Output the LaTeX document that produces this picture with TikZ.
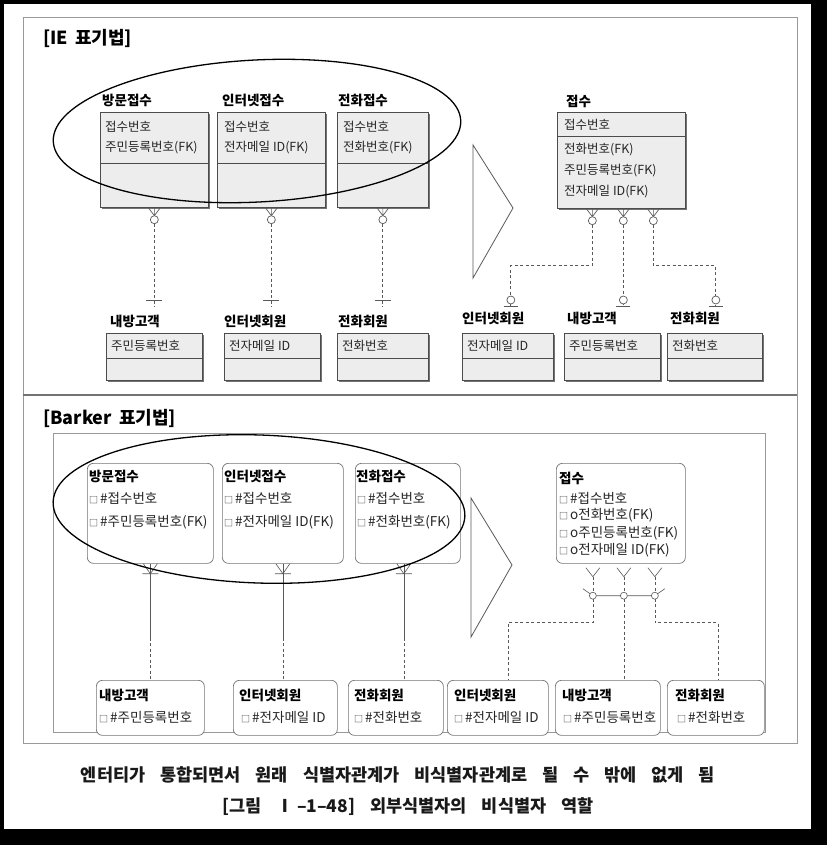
\documentclass[tikz,border=0pt]{standalone}
\usepackage{fontspec}
\setmainfont{Noto Sans CJK KR}
\usetikzlibrary{calc,shadows}

\definecolor{framegray}{gray}{0.6}
\definecolor{boxgray}{gray}{0.93}
\definecolor{relgray}{gray}{0.35}

% small key square used in Barker attributes
\newcommand{\bsq}{{\fontsize{9}{9}\selectfont □}\hspace{2pt}}

\tikzset{
  % IE: zero or many (crow's foot + circle)
  iemany/.pic={
    \draw[relgray, line width=0.7pt] (-6,0) -- (0,8) -- (6,0) (0,0) -- (0,8);
    \draw[relgray, line width=0.7pt, fill=white] (0,12) circle (4);
  },
  % IE: exactly one
  ieone/.pic={\draw[relgray, line width=0.8pt] (-8,0) -- (8,0);},
  % IE: zero or one
  ieopt/.pic={
    \draw[relgray, line width=0.7pt, fill=white] (0,-6) circle (4);
    \draw[relgray, line width=0.8pt] (-7,0) -- (7,0);
  },
  % Barker: many, part of UID
  bkid/.pic={
    \draw[black!65, line width=0.6pt] (-7,0) -- (0,10) -- (7,0) (-8,10) -- (8,10);
  },
  % Barker: many
  bkmany/.pic={
    \draw[black!65, line width=0.6pt] (-7,4) -- (0,13) -- (7,4);
  }
}

\begin{document}
\begin{tikzpicture}[x=1pt, y=-1pt,
  head/.style={font={\fontsize{18}{18}\selectfont\bfseries\spaceskip=7pt\relax}, anchor=west, inner sep=0pt},
  title/.style={font=\fontsize{13.5}{13.5}\selectfont\bfseries, anchor=west, inner sep=0pt},
  attr/.style={font=\fontsize{12.5}{12.5}\selectfont, anchor=west, inner sep=0pt, text=black!85},
  battr/.style={font=\fontsize{13.5}{13.5}\selectfont, anchor=west, inner sep=0pt, text=black!85},
  caption/.style={font={\fontsize{17.5}{17.5}\selectfont\bfseries\spaceskip=15pt\relax}, inner sep=0pt, text=black!90},
  iebox/.style={draw=black!70, line width=0.7pt, fill=boxgray, anchor=north west, inner sep=0pt,
    drop shadow={shadow xshift=1.5pt, shadow yshift=-1.5pt, fill=black!55, opacity=1}},
  bkbox/.style={draw=black!55, line width=0.7pt, fill=white, rounded corners=6pt, anchor=north west, inner sep=0pt},
  sep/.style={black!70, line width=0.7pt},
  ierel/.style={relgray, line width=0.9pt, dash pattern=on 3pt off 2.5pt},
  bkrel/.style={black!65, line width=0.6pt},
  bkopt/.style={bkrel, dash pattern=on 3pt off 2.5pt},
  oval/.style={black, line width=1.3pt},
  funnel/.style={black!65, line width=0.8pt},
]
  % Page and frames
  \fill[black] (0,0) rectangle (827,845);
  \fill[white] (4,4) rectangle (811,829);
  \draw[framegray, line width=0.8pt] (23,17) rectangle (797,743);
  \draw[black!55, line width=1.4pt] (23,395) -- (797,395);
  \draw[framegray, line width=0.7pt] (53,433) rectangle (765,732);

  % Headings
  \node[head] (ieHead) at (43,38) {[IE 표기법]};
  \node[head] (bkHead) at (43,418) {[Barker 표기법]};

  %% ---------------- IE notation ----------------
  % 방문접수
  \node[iebox, minimum width=108pt, minimum height=95pt] (ieVisit) at (100,112) {};
  \node[title] (ieVisitT) at (102,100) {방문접수};
  \node[attr] (ieVisitA) at (105,127) {접수번호};
  \node[attr] (ieVisitB) at (105,148) {주민등록번호(FK)};
  \draw[sep] ($(ieVisit.north west)+(0,51)$) -- ($(ieVisit.north east)+(0,51)$);
  % 인터넷접수
  \node[iebox, minimum width=108pt, minimum height=95pt] (ieNet) at (217,112) {};
  \node[title] (ieNetT) at (222,100) {인터넷접수};
  \node[attr] (ieNetA) at (224,127) {접수번호};
  \node[attr] (ieNetB) at (224,148) {전자메일 ID(FK)};
  \draw[sep] ($(ieNet.north west)+(0,51)$) -- ($(ieNet.north east)+(0,51)$);
  % 전화접수
  \node[iebox, minimum width=91pt, minimum height=95pt] (iePhone) at (337,112) {};
  \node[title] (iePhoneT) at (338,100) {전화접수};
  \node[attr] (iePhoneA) at (343,127) {접수번호};
  \node[attr] (iePhoneB) at (343,148) {전화번호(FK)};
  \draw[sep] ($(iePhone.north west)+(0,51)$) -- ($(iePhone.north east)+(0,51)$);
  % 접수
  \node[iebox, minimum width=128pt, minimum height=96pt] (ieRecv) at (557,112) {};
  \node[title] (ieRecvT) at (566,101) {접수};
  \node[attr] (ieRecvA) at (564,125) {접수번호};
  \node[attr] (ieRecvB) at (564,150) {전화번호(FK)};
  \node[attr] (ieRecvC) at (564,171) {주민등록번호(FK)};
  \node[attr] (ieRecvD) at (564,192) {전자메일 ID(FK)};
  \draw[sep] ($(ieRecv.north west)+(0,24)$) -- ($(ieRecv.north east)+(0,24)$);

  % lower IE entities
  \node[iebox, minimum width=96pt, minimum height=47pt] (ieHome) at (106,333) {};
  \node[title] (ieHomeT) at (110,321) {내방고객};
  \node[attr] (ieHomeA) at (111,346) {주민등록번호};
  \draw[sep] ($(ieHome.north west)+(0,25)$) -- ($(ieHome.north east)+(0,25)$);
  \node[iebox, minimum width=96pt, minimum height=47pt] (ieNetM) at (224,333) {};
  \node[title] (ieNetMT) at (224,321) {인터넷회원};
  \node[attr] (ieNetMA) at (229,346) {전자메일 ID};
  \draw[sep] ($(ieNetM.north west)+(0,25)$) -- ($(ieNetM.north east)+(0,25)$);
  \node[iebox, minimum width=91pt, minimum height=47pt] (iePhoneM) at (337,333) {};
  \node[title] (iePhoneMT) at (338,321) {전화회원};
  \node[attr] (iePhoneMA) at (342,346) {전화번호};
  \draw[sep] ($(iePhoneM.north west)+(0,25)$) -- ($(iePhoneM.north east)+(0,25)$);
  \node[iebox, minimum width=91pt, minimum height=47pt] (ieNetR) at (462,333) {};
  \node[title] (ieNetRT) at (462,318) {인터넷회원};
  \node[attr] (ieNetRA) at (467,346) {전자메일 ID};
  \draw[sep] ($(ieNetR.north west)+(0,25)$) -- ($(ieNetR.north east)+(0,25)$);
  \node[iebox, minimum width=96pt, minimum height=47pt] (ieHomeR) at (564,333) {};
  \node[title] (ieHomeRT) at (567,318) {내방고객};
  \node[attr] (ieHomeRA) at (569,346) {주민등록번호};
  \draw[sep] ($(ieHomeR.north west)+(0,25)$) -- ($(ieHomeR.north east)+(0,25)$);
  \node[iebox, minimum width=95pt, minimum height=47pt] (iePhoneR) at (667,333) {};
  \node[title] (iePhoneRT) at (670,318) {전화회원};
  \node[attr] (iePhoneRA) at (672,346) {전화번호};
  \draw[sep] ($(iePhoneR.north west)+(0,25)$) -- ($(iePhoneR.north east)+(0,25)$);

  % IE identifying relations (left)
  \foreach \a/\b in {ieVisit/ieHome, ieNet/ieNetM, iePhone/iePhoneM} {
    \draw[ierel] ($(\a.south)+(0,16)$) -- (\a.south |- 0,307);
    \pic at (\a.south) {iemany};
    \pic at (\a.south |- 0,300) {ieone};
  }
  % IE non-identifying relations (right)
  \coordinate (ieR1) at ($(ieRecv.south)+(-29,0)$);
  \coordinate (ieR2) at ($(ieRecv.south)+(2,0)$);
  \coordinate (ieR3) at ($(ieRecv.south)+(32,0)$);
  \coordinate (ieE1) at ($(ieNetR.north)+(3,-27)$);
  \coordinate (ieE2) at (ieR2 |- ieE1);
  \coordinate (ieE3) at ($(iePhoneR.north)+(1,-27)$);
  \draw[ierel] ($(ieR1)+(0,16)$) -- ($(ieR1)+(0,57)$) -| (ieE1);
  \draw[ierel] ($(ieR2)+(0,16)$) -- (ieE2);
  \draw[ierel] ($(ieR3)+(0,16)$) -- ($(ieR3)+(0,57)$) -| (ieE3);
  \foreach \p in {ieR1,ieR2,ieR3} \pic at (\p) {iemany};
  \foreach \p in {ieE1,ieE2,ieE3} \pic at (\p) {ieopt};

  % grouping oval and merge arrow
  \draw[oval, rotate around={3:(257,131)}] (257,131) ellipse [x radius=204, y radius=71];
  \draw[funnel] (473,145) -- (513,208) -- (473,278) -- cycle;

  %% ---------------- Barker notation ----------------
  % 방문접수
  \node[bkbox, minimum width=126pt, minimum height=100pt] (bkVisit) at (87,463) {};
  \node[title] (bkVisitT) at (89,476) {방문접수};
  \node[battr] (bkVisitA) at (89,498) {\bsq\#접수번호};
  \node[battr] (bkVisitB) at (89,522) {\bsq\#주민등록번호(FK)};
  % 인터넷접수
  \node[bkbox, minimum width=121pt, minimum height=100pt] (bkNet) at (222,463) {};
  \node[title] (bkNetT) at (224,476) {인터넷접수};
  \node[battr] (bkNetA) at (224,498) {\bsq\#접수번호};
  \node[battr] (bkNetB) at (224,522) {\bsq\#전자메일 ID(FK)};
  % 전화접수
  \node[bkbox, minimum width=105pt, minimum height=100pt] (bkPhone) at (355,463) {};
  \node[title] (bkPhoneT) at (356,476) {전화접수};
  \node[battr] (bkPhoneA) at (357,498) {\bsq\#접수번호};
  \node[battr] (bkPhoneB) at (357,522) {\bsq\#전화번호(FK)};
  % 접수
  \node[bkbox, minimum width=129pt, minimum height=100pt] (bkRecv) at (556,463) {};
  \node[title] (bkRecvT) at (559,478) {접수};
  \node[battr] (bkRecvA) at (559,498) {\bsq\#접수번호};
  \node[battr] (bkRecvB) at (559,515) {\bsq o전화번호(FK)};
  \node[battr] (bkRecvC) at (559,533) {\bsq o주민등록번호(FK)};
  \node[battr] (bkRecvD) at (559,550) {\bsq o전자메일 ID(FK)};

  % lower Barker entities
  \node[bkbox, minimum width=108pt, minimum height=55pt] (bkHome) at (96,680) {};
  \node[title] (bkHomeT) at (99,695) {내방고객};
  \node[battr] (bkHomeA) at (99,717) {\bsq\#주민등록번호};
  \node[bkbox, minimum width=104pt, minimum height=55pt] (bkNetM) at (233,680) {};
  \node[title] (bkNetMT) at (239,695) {인터넷회원};
  \node[battr] (bkNetMA) at (241,717) {\bsq\#전자메일 ID};
  \node[bkbox, minimum width=95pt, minimum height=55pt] (bkPhoneM) at (348,680) {};
  \node[title] (bkPhoneMT) at (354,695) {전화회원};
  \node[battr] (bkPhoneMA) at (354,717) {\bsq\#전화번호};
  \node[bkbox, minimum width=101pt, minimum height=55pt] (bkNetR) at (447,680) {};
  \node[title] (bkNetRT) at (454,695) {인터넷회원};
  \node[battr] (bkNetRA) at (454,717) {\bsq\#전자메일 ID};
  \node[bkbox, minimum width=105pt, minimum height=55pt] (bkHomeR) at (555,680) {};
  \node[title] (bkHomeRT) at (562,695) {내방고객};
  \node[battr] (bkHomeRA) at (563,717) {\bsq\#주민등록번호};
  \node[bkbox, minimum width=97pt, minimum height=55pt] (bkPhoneR) at (667,680) {};
  \node[title] (bkPhoneRT) at (675,695) {전화회원};
  \node[battr] (bkPhoneRA) at (677,717) {\bsq\#전화번호};

  % Barker identifying relations (left): solid half, dashed half
  \coordinate (bkS1) at (bkVisit.south);
  \coordinate (bkS2) at (bkNet.south);
  \coordinate (bkS3) at ($(bkPhone.south)+(-4,0)$);
  \foreach \s/\b in {bkS1/bkHome, bkS2/bkNetM, bkS3/bkPhoneM} {
    \draw[bkrel] (\s) -- ($(\s)+(0,74)$);
    \draw[bkopt] ($(\s)+(0,74)$) -- (\s |- \b.north);
    \pic at (\s) {bkid};
  }
  % Barker non-identifying relations with exclusive arc (right)
  \coordinate (bkR1) at ($(bkRecv.south)+(-28,0)$);
  \coordinate (bkR2) at ($(bkRecv.south)+(3,0)$);
  \coordinate (bkR3) at ($(bkRecv.south)+(34,0)$);
  \coordinate (bkK1) at ($(bkR1)+(0,32)$);
  \coordinate (bkK2) at ($(bkR2)+(0,32)$);
  \coordinate (bkK3) at ($(bkR3)+(0,32)$);
  \coordinate (bkE1) at ($(bkNetR.north)+(10,0)$);
  \coordinate (bkE2) at (bkR2 |- bkHomeR.north);
  \coordinate (bkE3) at ($(bkPhoneR.north)+(2,0)$);
  \draw[bkopt] ($(bkR1)+(0,13)$) -- (bkK1) -- ++(0,27) -| (bkE1);
  \draw[bkopt] ($(bkR2)+(0,13)$) -- (bkE2);
  \draw[bkopt] ($(bkR3)+(0,13)$) -- (bkK3) -- ++(0,27) -| (bkE3);
  \draw[bkrel] ($(bkK1)+(-10,-7)$) -- (bkK1) -- (bkK3) -- ($(bkK3)+(10,-7)$);
  \foreach \k in {bkK1,bkK2,bkK3} \draw[bkrel, fill=white] (\k) circle (3.5);
  \foreach \p in {bkR1,bkR2,bkR3} \pic at (\p) {bkmany};

  % grouping oval and merge arrow
  \draw[oval, rotate around={-2:(259,509)}] (259,509) ellipse [x radius=206, y radius=74];
  \draw[funnel] (471,498) -- (512,565) -- (471,637) -- cycle;

  % Captions
  \node[caption] (capA) at (398,775) {엔터티가 통합되면서 원래 식별자관계가 비식별자관계로 될 수 밖에 없게 됨};
  \node[caption] (capB) at (408,807) {[그림 Ⅰ\,–1–48] 외부식별자의 비식별자 역할};
\end{tikzpicture}
\end{document}
